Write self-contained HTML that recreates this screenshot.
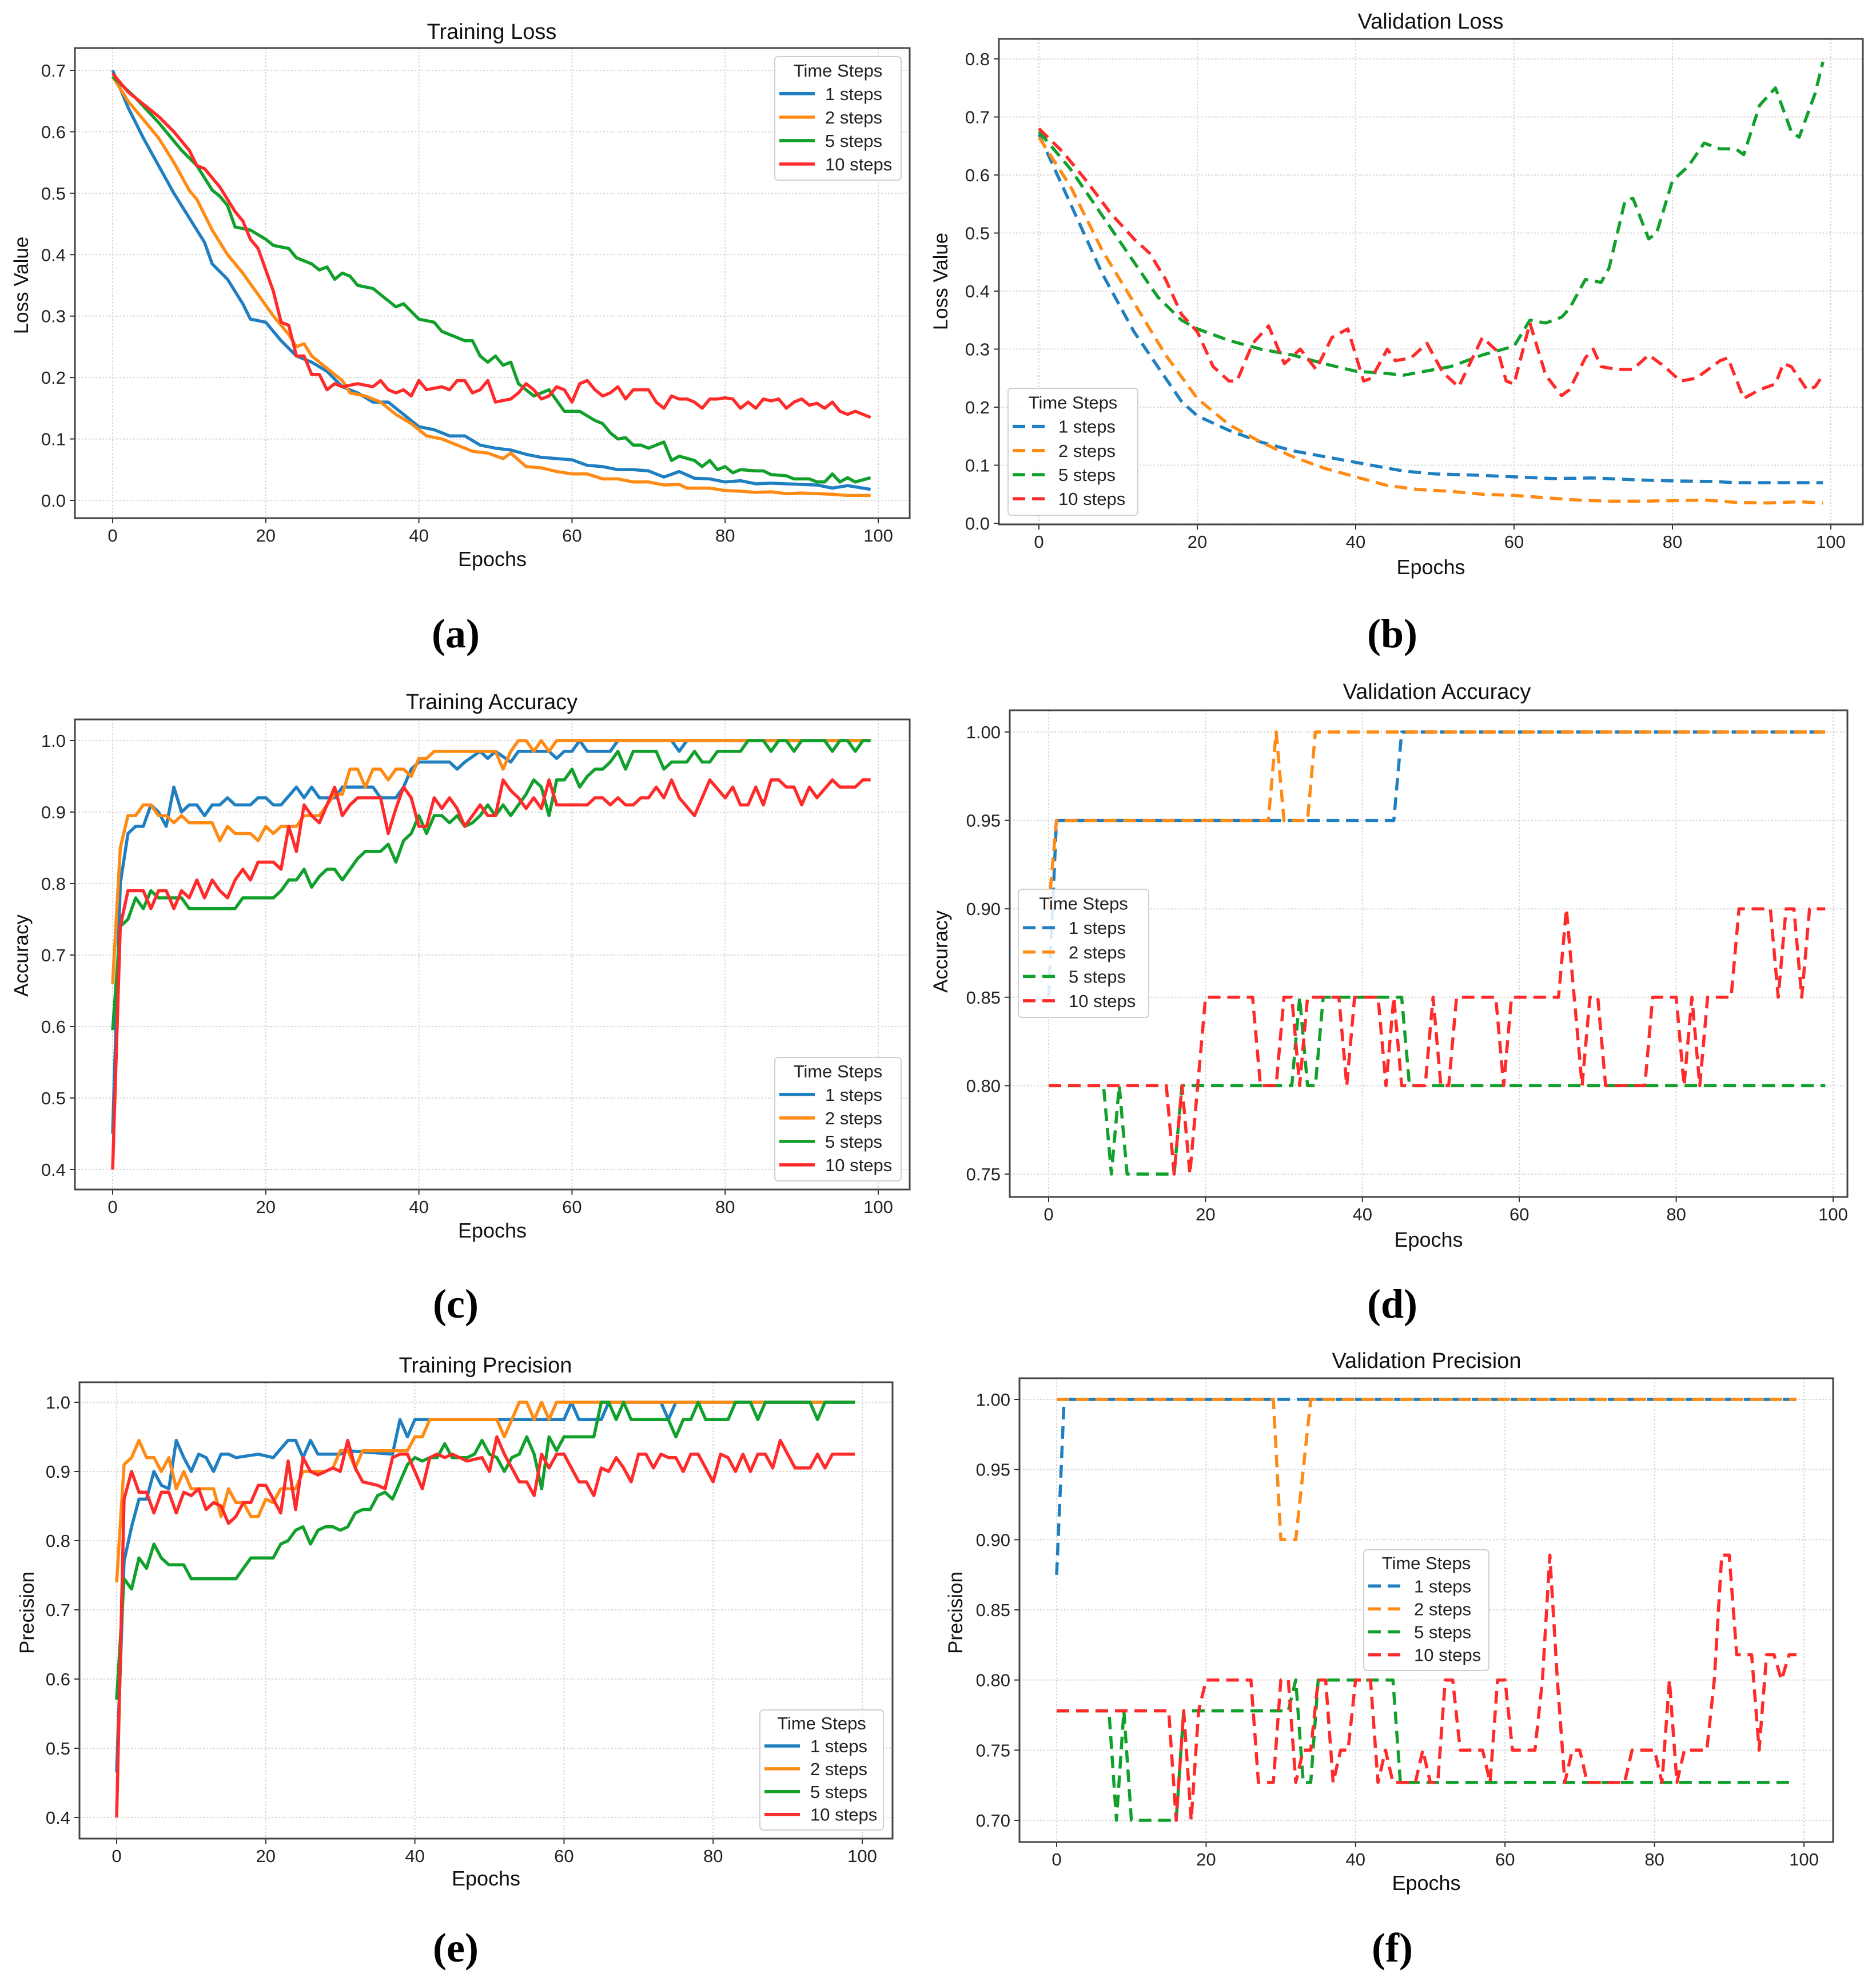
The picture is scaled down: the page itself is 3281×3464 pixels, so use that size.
<!DOCTYPE html>
<html><head><meta charset="utf-8"><style>
html,body{margin:0;padding:0;background:#fff;}
svg{display:block;}
</style></head><body>
<svg id="fig" width="3281" height="3464" viewBox="0 0 3281 3464" xmlns="http://www.w3.org/2000/svg" font-family="Liberation Sans, sans-serif"></svg>
<script>
// ---------- DATA (epoch breakpoints and values) ----------
const seriesLabels = ["1 steps","2 steps","5 steps","10 steps"];
// (a) Training Loss
const tl1x=[0,2,4,6,8,10,12,13,15,17,18,20,22,24,26,28,30,32,34,36,38,40,42,44,46,48,50,52,54,56,58,60,62,64,66,68,70,72,74,76,78,80,82,84,86,88,90,92,94,96,99];
const tl1y=[.70,.64,.59,.545,.50,.46,.42,.385,.36,.32,.295,.29,.26,.235,.225,.21,.185,.175,.16,.16,.14,.12,.115,.105,.105,.09,.085,.082,.075,.07,.068,.066,.057,.055,.05,.05,.048,.038,.047,.036,.035,.03,.032,.027,.028,.027,.026,.025,.02,.024,.018];
const tl2x=[0,2,4,6,8,10,11,13,15,17,19,21,23,24,25,26,28,30,31,33,35,37,39,41,43,45,47,49,51,52,54,56,58,60,62,64,66,68,70,72,74,75,78,80,82,84,86,88,90,92,94,96,99];
const tl2y=[.69,.65,.62,.59,.55,.505,.49,.44,.40,.37,.335,.30,.27,.25,.255,.235,.215,.195,.175,.17,.16,.14,.125,.105,.10,.09,.08,.077,.068,.077,.055,.053,.047,.043,.043,.035,.035,.03,.03,.025,.026,.02,.02,.016,.015,.013,.014,.011,.012,.011,.01,.008,.008];
const tl5x=[0,3,6,9,11,13,14,15,16,18,20,21,23,24,26,27,28,29,30,31,32,34,36,37,38,40,42,43,45,46,47,48,49,50,51,52,53,55,57,59,61,63,64,65,66,67,68,69,70,72,73,74,76,77,78,79,80,81,82,84,85,86,88,89,91,92,93,94,95,96,97,99];
const tl5y=[.69,.655,.615,.57,.545,.505,.495,.48,.445,.44,.425,.415,.41,.395,.385,.375,.38,.36,.37,.365,.35,.345,.325,.315,.32,.295,.29,.275,.265,.26,.26,.235,.225,.235,.22,.225,.19,.17,.18,.145,.145,.13,.125,.11,.10,.102,.09,.09,.085,.095,.065,.072,.065,.055,.065,.05,.055,.045,.05,.048,.048,.042,.04,.035,.035,.03,.03,.043,.03,.037,.03,.037];
const tl10x=[0,2,4,6,8,10,11,12,14,16,17,18,19,20,21,22,23,24,25,26,27,28,29,30,32,34,35,36,37,38,39,40,41,43,44,45,46,47,48,49,50,52,53,54,55,56,57,58,59,60,61,62,63,64,65,66,67,68,69,70,71,72,73,74,75,76,77,78,79,80,81,82,83,84,85,86,87,88,89,90,91,92,93,94,95,96,97,98,99];
const tl10y=[.695,.665,.645,.625,.60,.57,.545,.54,.51,.47,.455,.425,.41,.375,.34,.29,.285,.235,.235,.205,.205,.18,.19,.185,.19,.185,.195,.18,.175,.18,.17,.195,.18,.185,.18,.195,.195,.175,.18,.195,.16,.165,.175,.19,.18,.165,.17,.185,.18,.16,.19,.195,.18,.17,.175,.185,.165,.18,.18,.18,.16,.15,.17,.165,.165,.16,.15,.165,.165,.167,.165,.15,.16,.15,.165,.162,.165,.15,.16,.165,.155,.158,.15,.16,.145,.14,.145,.14,.135];
// (b) Validation Loss
const vl1x=[0,4,8,12,16,18,20,24,28,32,36,40,44,46,50,55,60,65,70,75,80,85,88,95,99];
const vl1y=[.67,.55,.43,.33,.25,.21,.185,.16,.14,.125,.115,.105,.095,.09,.085,.083,.08,.077,.078,.075,.073,.072,.07,.07,.07];
const vl2x=[0,4,8,12,16,20,24,28,32,36,40,44,48,52,56,60,64,68,72,76,80,84,88,92,96,99];
const vl2y=[.665,.58,.47,.38,.29,.215,.17,.14,.115,.095,.08,.065,.058,.055,.05,.048,.044,.04,.038,.038,.039,.04,.036,.035,.037,.035];
const vl5x=[0,4,8,12,15,18,20,24,28,32,36,40,44,46,48,52,56,60,62,64,66,67,69,71,72,74,75,77,78,80,82,84,86,88,89,91,93,95,96,98,99];
const vl5y=[.675,.61,.53,.45,.39,.35,.335,.315,.30,.29,.275,.262,.258,.255,.26,.27,.29,.305,.35,.345,.355,.37,.42,.415,.44,.555,.56,.49,.50,.59,.615,.655,.645,.645,.635,.72,.75,.675,.665,.74,.795];
const vl10x=[0,3,6,9,12,14,16,18,20,22,24,25,27,29,31,33,35,37,39,41,42,44,45,47,49,51,53,56,58,59,60,62,64,66,67,69,70,71,73,75,77,79,81,83,86,87,89,91,93,94,95,97,98,99];
const vl10y=[.68,.64,.59,.535,.49,.465,.42,.36,.33,.27,.245,.245,.31,.34,.275,.30,.265,.32,.335,.245,.25,.30,.28,.285,.31,.26,.235,.32,.295,.245,.24,.345,.255,.22,.23,.285,.30,.27,.265,.265,.29,.27,.245,.25,.28,.285,.215,.23,.24,.275,.27,.23,.235,.255];
// (c) Training Accuracy
const ta1x=[0,1,2,3,4,5,6,7,8,9,10,11,12,13,14,15,16,18,19,20,21,22,24,25,26,27,29,30,34,35,37,38,39,40,44,45,46,48,49,50,52,53,57,58,59,60,61,62,65,66,73,74,75,99];
const ta1y=[.45,.80,.87,.88,.88,.91,.90,.88,.935,.90,.91,.91,.895,.91,.91,.92,.91,.91,.92,.92,.91,.91,.935,.92,.935,.92,.92,.935,.935,.92,.92,.935,.96,.97,.97,.96,.97,.985,.975,.985,.97,.985,.985,.975,.985,.985,1,.985,.985,1,1,.985,1,1];
const ta2x=[0,1,2,3,4,5,6,7,8,9,10,13,14,15,16,18,19,20,21,22,24,25,27,28,29,30,31,32,33,34,35,36,37,38,39,40,41,42,50,51,52,53,54,55,56,57,58,99];
const ta2y=[.66,.85,.895,.895,.91,.91,.895,.895,.885,.895,.885,.885,.86,.88,.87,.87,.86,.88,.87,.88,.88,.895,.895,.91,.925,.925,.96,.96,.935,.96,.96,.945,.96,.96,.95,.975,.975,.985,.985,.96,.985,1,1,.985,1,.985,1,1];
const ta5x=[0,1,2,3,4,5,6,9,10,16,17,21,22,23,24,25,26,27,28,29,30,31,32,33,35,36,37,38,39,40,41,42,43,44,45,46,47,48,49,50,51,52,53,54,55,56,57,58,59,60,61,62,63,64,65,66,67,68,71,72,73,75,76,77,78,79,81,82,83,85,86,87,88,89,90,93,94,95,96,97,98,99];
const ta5y=[.595,.74,.75,.78,.765,.79,.78,.78,.765,.765,.78,.78,.79,.805,.805,.82,.795,.81,.82,.82,.805,.82,.835,.845,.845,.855,.83,.86,.87,.895,.87,.895,.895,.885,.895,.88,.885,.895,.91,.895,.91,.895,.91,.925,.945,.935,.895,.945,.945,.96,.935,.95,.96,.96,.97,.985,.96,.985,.985,.96,.97,.97,.985,.97,.97,.985,.985,.985,1,1,.985,1,1,.985,1,1,.985,1,1,.985,1,1];
const ta10x=[0,1,2,4,5,6,7,8,9,10,11,12,13,14,15,16,17,18,19,21,22,23,24,25,26,27,28,29,30,31,32,35,36,37,38,39,40,41,42,43,44,45,46,47,48,49,50,51,52,53,54,55,56,57,58,62,63,64,65,66,67,68,69,70,71,72,73,74,76,78,80,81,82,83,84,85,86,87,88,89,90,91,92,94,95,97,98,99];
const ta10y=[.40,.74,.79,.79,.765,.79,.79,.765,.79,.78,.805,.78,.805,.79,.78,.805,.82,.805,.83,.83,.82,.88,.845,.91,.895,.885,.91,.935,.895,.91,.92,.92,.87,.905,.935,.92,.88,.88,.92,.905,.92,.905,.88,.895,.91,.895,.895,.945,.93,.92,.905,.92,.905,.945,.91,.91,.92,.92,.91,.92,.91,.91,.92,.92,.935,.92,.945,.92,.895,.945,.92,.935,.91,.91,.935,.91,.945,.945,.935,.935,.91,.935,.92,.945,.935,.935,.945,.945];
// (d) Validation Accuracy
const va1x=[0,1,44,45,99];
const va1y=[.85,.95,.95,1,1];
const va2x=[0,1,28,29,30,33,34,99];
const va2y=[.90,.95,.95,1,.95,.95,1,1];
const va5x=[0,7,8,9,10,16,17,31,32,33,34,35,45,46,99];
const va5y=[.80,.80,.75,.80,.75,.75,.80,.80,.85,.80,.80,.85,.85,.80,.80];
const va10x=[0,15,16,17,18,19,20,26,27,29,30,31,32,33,37,38,39,42,43,44,45,48,49,50,51,52,57,58,59,65,66,67,68,69,70,71,76,77,80,81,82,83,84,87,88,92,93,94,95,96,97,99];
const va10y=[.80,.80,.75,.80,.75,.80,.85,.85,.80,.80,.85,.85,.80,.85,.85,.80,.85,.85,.80,.85,.80,.80,.85,.80,.80,.85,.85,.80,.85,.85,.90,.85,.80,.85,.85,.80,.80,.85,.85,.80,.85,.80,.85,.85,.90,.90,.85,.90,.90,.85,.90,.90];
// (e) Training Precision
const tp1x=[0,1,2,3,4,5,6,7,8,9,10,11,12,13,14,15,16,19,21,23,24,25,26,27,30,31,37,38,39,40,51,60,61,62,65,66,73,74,75,99];
const tp1y=[.465,.77,.82,.86,.86,.90,.88,.875,.945,.92,.90,.925,.92,.90,.925,.925,.92,.925,.92,.945,.945,.92,.945,.925,.925,.93,.925,.975,.95,.975,.975,.975,1,.975,.975,1,1,.975,1,1];
const tp2x=[0,1,2,3,4,5,6,7,8,9,10,13,14,15,16,17,18,19,20,21,22,24,25,28,29,30,31,32,33,38,39,40,41,42,51,52,53,54,55,56,57,58,59,99];
const tp2y=[.74,.91,.92,.945,.92,.92,.90,.92,.875,.90,.875,.875,.835,.875,.855,.855,.835,.835,.86,.855,.875,.875,.90,.90,.905,.93,.93,.905,.93,.93,.93,.95,.95,.975,.975,.95,.975,1,1,.975,1,.975,1,1];
const tp5x=[0,1,2,3,4,5,6,7,9,10,16,17,18,21,22,23,24,25,26,27,28,29,30,31,32,33,34,35,36,37,38,39,40,41,42,43,44,45,47,48,49,50,51,52,53,54,55,56,57,58,59,60,61,64,65,66,67,68,69,73,74,75,76,77,78,79,82,83,85,86,87,93,94,95,99];
const tp5y=[.57,.745,.73,.775,.76,.795,.775,.765,.765,.745,.745,.76,.775,.775,.795,.80,.815,.82,.795,.815,.82,.82,.815,.82,.84,.845,.845,.865,.87,.86,.885,.91,.92,.915,.92,.92,.94,.92,.92,.925,.945,.925,.92,.90,.92,.925,.95,.925,.875,.95,.93,.95,.95,.95,1,1,.975,1,.975,.975,.975,.95,.975,.975,1,.975,.975,1,1,.975,1,1,.975,1,1];
const tp10x=[0,1,2,3,4,5,6,7,8,9,10,11,12,13,14,15,16,17,18,19,20,21,22,23,24,25,26,27,28,29,30,31,32,33,35,36,37,38,39,40,41,42,43,44,45,47,49,50,51,52,53,54,55,56,57,58,59,60,61,62,63,64,65,66,67,68,69,70,71,72,73,74,75,76,77,78,79,80,81,82,83,84,85,86,87,88,89,90,91,92,93,94,95,96,97,99];
const tp10y=[.40,.86,.90,.87,.87,.84,.87,.87,.84,.87,.865,.875,.845,.855,.85,.825,.835,.855,.855,.88,.88,.86,.84,.915,.845,.92,.90,.895,.90,.905,.90,.945,.905,.885,.88,.875,.92,.925,.925,.90,.875,.92,.925,.92,.925,.915,.92,.90,.95,.925,.905,.885,.885,.865,.925,.905,.925,.925,.905,.885,.885,.865,.905,.90,.92,.905,.885,.925,.925,.905,.925,.92,.92,.90,.925,.925,.905,.885,.925,.92,.90,.925,.90,.925,.925,.905,.945,.925,.905,.905,.905,.925,.905,.925,.925,.925];
// (f) Validation Precision
const vp1x=[0,1,99];
const vp1y=[.875,1,1];
const vp2x=[0,29,30,32,34,99];
const vp2y=[1,1,.90,.90,1,1];
const vp5x=[0,7,8,9,10,16,17,31,32,33,34,35,45,46,98];
const vp5y=[.778,.778,.70,.778,.70,.70,.778,.778,.80,.727,.727,.80,.80,.727,.727];
const vp10x=[0,15,16,17,18,19,20,26,27,29,30,31,32,33,34,35,36,37,38,39,40,42,43,44,45,48,49,50,51,52,53,54,57,58,59,60,61,64,65,66,67,68,69,70,71,76,77,80,81,82,83,84,87,88,89,90,91,93,94,95,96,97,98,99];
const vp10y=[.778,.778,.70,.778,.70,.778,.80,.80,.727,.727,.80,.80,.727,.75,.75,.80,.80,.727,.75,.75,.80,.80,.727,.75,.727,.727,.75,.727,.727,.80,.80,.75,.75,.727,.80,.80,.75,.75,.80,.889,.80,.727,.75,.75,.727,.727,.75,.75,.727,.80,.727,.75,.75,.80,.889,.889,.818,.818,.75,.818,.818,.80,.818,.818];

// tick labels
const ticksA=["0.0","0.1","0.2","0.3","0.4","0.5","0.6","0.7"];
const ticksB=["0.0","0.1","0.2","0.3","0.4","0.5","0.6","0.7","0.8"];
const ticksAcc=["0.4","0.5","0.6","0.7","0.8","0.9","1.0"];
const ticksD=["0.75","0.80","0.85","0.90","0.95","1.00"];
const ticksF=["0.70","0.75","0.80","0.85","0.90","0.95","1.00"];
const xTicks=["0","20","40","60","80","100"];

// ---------- RENDER ----------
const NS="http://www.w3.org/2000/svg";
const svg=document.getElementById('fig');
const COLORS=["#1f7fc0","#ff8a14","#12a02c","#ff2a2a"];
function mk(tag,attrs,parent){const e=document.createElementNS(NS,tag);for(const k in attrs)e.setAttribute(k,attrs[k]);(parent||svg).appendChild(e);return e;}

const panels=[
 {id:"a",title:"Training Loss",ylab:"Loss Value",L:131,R:1591,T:84,B:906,x0:197,x100:1536,v0:0,v1:0.7,p0:875,p1:123,ticks:ticksA,dash:false,
  series:[[tl1x,tl1y],[tl2x,tl2y],[tl5x,tl5y],[tl10x,tl10y]],tx:860,ty:55,xly:978,cap:[797,1108],yl:[37,499],leg:[1355,99,221,216]},
 {id:"b",title:"Validation Loss",ylab:"Loss Value",L:1747,R:3258,T:68,B:917,x0:1817,x100:3202,v0:0,v1:0.8,p0:915,p1:103,ticks:ticksB,dash:true,
  series:[[vl1x,vl1y],[vl2x,vl2y],[vl5x,vl5y],[vl10x,vl10y]],tx:2502,ty:37,xly:992,cap:[2435,1108],yl:[1645,492],leg:[1763,679,227,222]},
 {id:"c",title:"Training Accuracy",ylab:"Accuracy",L:131,R:1591,T:1258,B:2080,x0:197,x100:1536,v0:0.4,v1:1.0,p0:2045,p1:1295,ticks:ticksAcc,dash:false,
  series:[[ta1x,ta1y],[ta2x,ta2y],[ta5x,ta5y],[ta10x,ta10y]],tx:860,ty:1227,xly:2152,cap:[797,2280],yl:[37,1671],leg:[1355,1849,221,216]},
 {id:"d",title:"Validation Accuracy",ylab:"Accuracy",L:1766,R:3231,T:1242,B:2093,x0:1834,x100:3206,v0:0.75,v1:1.0,p0:2053,p1:1280,ticks:ticksD,dash:true,
  series:[[va1x,va1y],[va2x,va2y],[va5x,va5y],[va10x,va10y]],tx:2513,ty:1209,xly:2168,cap:[2435,2280],yl:[1645,1664],leg:[1781,1555,228,224]},
 {id:"e",title:"Training Precision",ylab:"Precision",L:139,R:1561,T:2417,B:3215,x0:204,x100:1508,v0:0.4,v1:1.0,p0:3178,p1:2452,ticks:ticksAcc,dash:false,
  series:[[tp1x,tp1y],[tp2x,tp2y],[tp5x,tp5y],[tp10x,tp10y]],tx:849,ty:2387,xly:3285,cap:[797,3406],yl:[47,2820],leg:[1329,2990,216,210]},
 {id:"f",title:"Validation Precision",ylab:"Precision",L:1783,R:3206,T:2410,B:3221,x0:1848,x100:3155,v0:0.70,v1:1.0,p0:3183,p1:2447,ticks:ticksF,dash:true,
  series:[[vp1x,vp1y],[vp2x,vp2y],[vp5x,vp5y],[vp10x,vp10y]],tx:2495,ty:2379,xly:3293,cap:[2435,3406],yl:[1671,2820],leg:[2385,2710,219,211]}
];

panels.forEach(p=>{
  const g=mk('g',{});
  
  
  const xs=e=>p.x0+(e/100)*(p.x100-p.x0);
  const ys=v=>p.p0+(v-p.v0)/(p.v1-p.v0)*(p.p1-p.p0);
  const clipId='clip'+p.id;
  const cp=mk('clipPath',{id:clipId},g);
  mk('rect',{x:p.L,y:p.T,width:p.R-p.L,height:p.B-p.T},cp);
  const n=p.ticks.length;
  for(let i=0;i<n;i++){
    const v=p.v0+(p.v1-p.v0)*i/(n-1);
    const y=ys(v);
    const gl=mk('line',{x1:p.L,x2:p.R,y1:y,y2:y,stroke:"#d8d8d8","stroke-width":2,"stroke-dasharray":"3,3"},g);
    
    
    mk('line',{x1:p.L-9,x2:p.L,y1:y,y2:y,stroke:"#333","stroke-width":2},g);
    const t=mk('text',{x:p.L-16,y:y+11,"font-size":31,"text-anchor":"end",fill:"#222"},g);
    t.textContent=p.ticks[i];
    
    
  }
  xTicks.forEach(lbl=>{
    const x=xs(+lbl);
    const gl=mk('line',{x1:x,x2:x,y1:p.T,y2:p.B,stroke:"#d8d8d8","stroke-width":2,"stroke-dasharray":"3,3"},g);
    
    
    mk('line',{x1:x,x2:x,y1:p.B,y2:p.B+9,stroke:"#333","stroke-width":2},g);
    const t=mk('text',{x:x,y:p.B+41,"font-size":31,"text-anchor":"middle",fill:"#222"},g);
    t.textContent=lbl;
    
    
  });
  const sg=mk('g',{"clip-path":"url(#"+clipId+")"},g);
  p.series.forEach((s,i)=>{
    const pts=s[0].map((e,k)=>xs(e).toFixed(1)+","+ys(s[1][k]).toFixed(1)).join(" ");
    const attrs={points:pts,fill:"none",stroke:COLORS[i],"stroke-width":5.5,"stroke-linejoin":"round"};
    if(p.dash)attrs["stroke-dasharray"]="22,12";
    const pl=mk('polyline',attrs,sg);
    
    
  });
  const fr=mk('rect',{x:p.L,y:p.T,width:p.R-p.L,height:p.B-p.T,fill:"none",stroke:"#444","stroke-width":3},g);
  
  
  const tt=mk('text',{x:p.tx,y:p.ty+13,"font-size":38,"text-anchor":"middle",fill:"#111"},g);
  tt.textContent=p.title;
  
  
  const xl=mk('text',{x:(p.L+p.R)/2,y:p.xly+12,"font-size":36,"text-anchor":"middle",fill:"#111"},g);
  xl.textContent="Epochs";
  
  
  const yl=mk('text',{x:p.yl[0],y:p.yl[1],"font-size":35,"text-anchor":"middle",fill:"#111",transform:"rotate(-90 "+p.yl[0]+" "+p.yl[1]+")",dy:12},g);
  yl.textContent=p.ylab;
  
  
  const cap=mk('text',{x:p.cap[0],y:p.cap[1]+24,"font-size":72,"font-weight":"bold","text-anchor":"middle",fill:"#000","font-family":"Liberation Serif, serif"},g);
  cap.textContent="("+p.id+")";
  
  
  const [lx,ly,lw,lh]=p.leg;
  const lg=mk('g',{},g);
  
  
  mk('rect',{x:lx,y:ly,width:lw,height:lh,rx:6,fill:"#fff","fill-opacity":0.85,stroke:"#cfcfcf","stroke-width":2},lg);
  const lt=mk('text',{x:lx+lw/2,y:ly+lh*0.11+11,"font-size":31,"text-anchor":"middle",fill:"#222"},lg);
  lt.textContent="Time Steps";
  
  
  seriesLabels.forEach((lbl,i)=>{
    const yy=ly+lh*0.30+i*lh*0.19;
    const la={x1:lx+8,x2:lx+70,y1:yy,y2:yy,stroke:COLORS[i],"stroke-width":5.5};
    if(p.dash)la["stroke-dasharray"]="22,12";
    const ll=mk('line',la,lg);
    
    
    const tx=mk('text',{x:lx+88,y:yy+11,"font-size":31,fill:"#222"},lg);
    tx.textContent=lbl;
    
    
  });
});
</script>
</body></html>
